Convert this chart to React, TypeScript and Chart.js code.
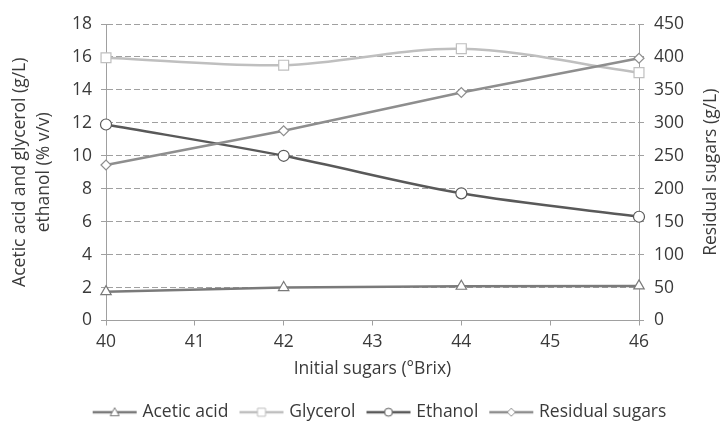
import React, { useEffect, useRef } from "react";
import { Chart, registerables } from "chart.js";

Chart.register(...registerables);

const brix = [40, 42, 44, 46];
const aceticAcid = [1.75, 2.0, 2.08, 2.1];
const glycerol = [15.95, 15.5, 16.5, 15.05];
const ethanol = [11.9, 10.0, 7.72, 6.3];
const residualSugars = [236, 288, 346, 398];

const seriesNames = ["Acetic acid", "Glycerol", "Ethanol", "Residual sugars"];
const seriesColors = ["#7a7a7a", "#bfbfbf", "#595959", "#8e8e8e"];
const seriesMarkers = ["triangle", "rect", "circle", "rectRot"];

const xTitle = "Initial sugars (°Brix)";
const yLeftTitle = ["Acetic acid and glycerol (g/L)", "ethanol (% v/v)"];
const yRightTitle = "Residual sugars (g/L)";

const FONT = "'Open Sans'";
const FSIZE = 17.5;
const TEXT = "#3a3a3a";
const AXIS = "#a0a0a0";

function makeLegendImage(color: string, marker: string): HTMLCanvasElement {
  const c = document.createElement("canvas");
  c.width = 46;
  c.height = 14;
  const ctx = c.getContext("2d")!;
  ctx.strokeStyle = color;
  ctx.lineWidth = 2.5;
  ctx.beginPath();
  ctx.moveTo(1, 7);
  ctx.lineTo(45, 7);
  ctx.stroke();
  ctx.fillStyle = "#ffffff";
  ctx.lineWidth = 1;
  ctx.beginPath();
  const cx = 23, cy = 7;
  if (marker === "triangle") {
    ctx.moveTo(cx, cy - 4.5);
    ctx.lineTo(cx + 4.5, cy + 3.5);
    ctx.lineTo(cx - 4.5, cy + 3.5);
    ctx.closePath();
  } else if (marker === "rect") {
    ctx.rect(cx - 4, cy - 4, 8, 8);
  } else if (marker === "circle") {
    ctx.arc(cx, cy, 4, 0, Math.PI * 2);
  } else {
    ctx.moveTo(cx - 4, cy);
    ctx.lineTo(cx, cy - 4);
    ctx.lineTo(cx + 4, cy);
    ctx.lineTo(cx, cy + 4);
    ctx.closePath();
  }
  ctx.fill();
  ctx.stroke();
  return c;
}

const legendShift = {
  id: "legendShift",
  afterLayout(chart: any) {
    const lg = chart.legend;
    if (!lg) return;
    const dx = 20;
    const dy = 10;
    lg.left += dx;
    lg.right += dx;
    lg.top += dy;
    lg.bottom += dy;
  },
};

// Right-axis title reads bottom-to-top, like the left one
const rightTitle = {
  id: "rightTitle",
  afterDraw(chart: any) {
    const s = chart.scales.y1;
    if (!s) return;
    const ctx = chart.ctx;
    ctx.save();
    ctx.font = `${FSIZE}px ${FONT}`;
    ctx.fillStyle = TEXT;
    ctx.textAlign = "center";
    ctx.textBaseline = "middle";
    ctx.translate(s.right - 11, (s.top + s.bottom) / 2);
    ctx.rotate(-Math.PI / 2);
    ctx.fillText(yRightTitle, 0, 0);
    ctx.restore();
  },
};

export default function App() {
  const ref = useRef<HTMLCanvasElement | null>(null);

  useEffect(() => {
    document.body.style.margin = "0";
    const canvas = ref.current!;
    const images = seriesColors.map((c, i) => makeLegendImage(c, seriesMarkers[i]));
    const values = [aceticAcid, glycerol, ethanol, residualSugars];
    const radii = [6, 7, 5.5, 5];
    const tensions = [0, 0.33, 0.33, 0];

    const datasets = values.map((vals, i) => ({
      label: seriesNames[i],
      data: brix.map((x, j) => ({ x, y: vals[j] })),
      borderColor: seriesColors[i],
      backgroundColor: seriesColors[i],
      borderWidth: 2.5,
      pointStyle: seriesMarkers[i] as any,
      pointRadius: radii[i],
      pointBorderWidth: 1.2,
      pointBackgroundColor: "#ffffff",
      pointBorderColor: seriesColors[i],
      tension: tensions[i],
      clip: false as any,
      yAxisID: i === 3 ? "y1" : "y",
      order: [2, 1, 3, 0][i],
    }));

    const chart = new Chart(canvas, {
      type: "line",
      data: { datasets },
      plugins: [legendShift, rightTitle],
      options: {
        animation: false,
        responsive: false,
        maintainAspectRatio: false,
        layout: { padding: { top: 24, left: 0, right: 0, bottom: 0 } },
        plugins: {
          tooltip: { enabled: false },
          legend: {
            position: "bottom",
            labels: {
              usePointStyle: true,
              pointStyleWidth: 38,
              padding: 14,
              color: TEXT,
              font: { family: FONT, size: FSIZE },
              generateLabels: () =>
                seriesNames.map((name, i) => ({
                  text: name,
                  pointStyle: images[i] as any,
                  fillStyle: "transparent",
                  strokeStyle: "transparent",
                  lineWidth: 0,
                  fontColor: TEXT,
                  hidden: false,
                  datasetIndex: i,
                })),
            },
          },
        },
        scales: {
          x: {
            type: "linear",
            min: 40,
            max: 46,
            ticks: {
              stepSize: 1,
              color: TEXT,
              padding: 6,
              font: { family: FONT, size: FSIZE },
            },
            grid: {
              drawOnChartArea: false,
              drawTicks: true,
              tickLength: 5,
              color: AXIS,
            },
            border: { display: true, color: AXIS, width: 1 },
            title: {
              display: true,
              text: xTitle,
              color: TEXT,
              font: { family: FONT, size: FSIZE },
              padding: { top: 0, bottom: 0 },
            },
          },
          y: {
            position: "left",
            min: 0,
            max: 18,
            ticks: {
              stepSize: 2,
              color: TEXT,
              padding: 9,
              font: { family: FONT, size: FSIZE },
            },
            grid: {
              color: AXIS,
              tickLength: 5,
              tickBorderDash: [],
            } as any,
            border: { display: true, color: AXIS, width: 1, dash: [6, 3] },
            title: {
              display: true,
              text: yLeftTitle,
              color: TEXT,
              font: { family: FONT, size: FSIZE, lineHeight: 1.38 },
              padding: { top: 8, bottom: 0 },
            },
            afterFit: (s: any) => {
              s.width = 106;
            },
          },
          y1: {
            position: "right",
            min: 0,
            max: 450,
            ticks: {
              stepSize: 50,
              color: TEXT,
              padding: 10,
              font: { family: FONT, size: FSIZE },
            },
            grid: {
              drawOnChartArea: false,
              color: AXIS,
              tickLength: 5,
            },
            border: { display: true, color: AXIS, width: 1 },
            afterFit: (s: any) => {
              s.width = 83;
            },
          },
        },
      },
    });
    return () => chart.destroy();
  }, []);

  return (
    <div style={{ width: 722, height: 421 }}>
      <canvas ref={ref} width={722} height={421} style={{ width: 722, height: 421, display: "block" }} />
    </div>
  );
}
